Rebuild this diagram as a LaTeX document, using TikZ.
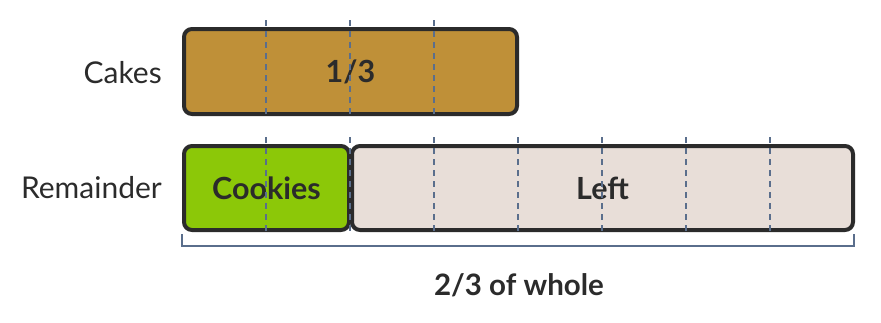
\documentclass[tikz,border=0pt]{standalone}
\usepackage{fontspec}
\setmainfont{Lato}
\definecolor{cake}{HTML}{BF9038}
\definecolor{cookie}{HTML}{8CC808}
\definecolor{leftc}{HTML}{E8DED8}
\definecolor{edge}{HTML}{2B2B2B}
\definecolor{dash}{HTML}{5A6E8C}
\definecolor{txt}{HTML}{2B2B2B}
\tikzset{
  bar/.style={draw=edge, line width=4pt, rounded corners=8pt, inner sep=0pt, text=txt, font=\fontsize{30.5}{34}\selectfont\bfseries},
  rowlabel/.style={anchor=east, inner sep=0pt, text=txt, font=\fontsize{30}{34}\selectfont},
  divider/.style={draw=dash, line width=1.5pt, dash pattern=on 6pt off 5pt},
  brace/.style={draw=dash, line width=2pt},
}
\begin{document}
\begin{tikzpicture}[x=1pt,y=-1pt]
\useasboundingbox (0,0) rectangle (881,322);
\node[bar, fill=cake, minimum width=333pt, minimum height=85pt] (cakes) at (350.5,71.5) {1/3};
\node[bar, fill=cookie, minimum width=165pt, minimum height=84pt] (cookies) at (266.5,188) {Cookies};
\node[bar, fill=leftc, minimum width=501pt, minimum height=84pt] (leftbar) at (602.5,188) {Left};
\node[rowlabel] (lcakes) at (162,73) {Cakes};
\node[rowlabel] (lrem) at (162,188) {Remainder};
\foreach \x in {266,350,434}{
  \draw[divider] (\x,20) -- (\x,116);
}
\foreach \x in {266,350,434,518,602,686,770}{
  \draw[divider] (\x,137) -- (\x,232);
}
\coordinate (bl) at (182,234);
\coordinate (br) at (854,234);
\draw[brace] (bl) -- ++(0,12) -| (br);
\node[inner sep=0pt, text=txt, font=\fontsize{29.5}{34}\selectfont\bfseries] (whole) at (519,285) {2/3 of whole};
\end{tikzpicture}
\end{document}
